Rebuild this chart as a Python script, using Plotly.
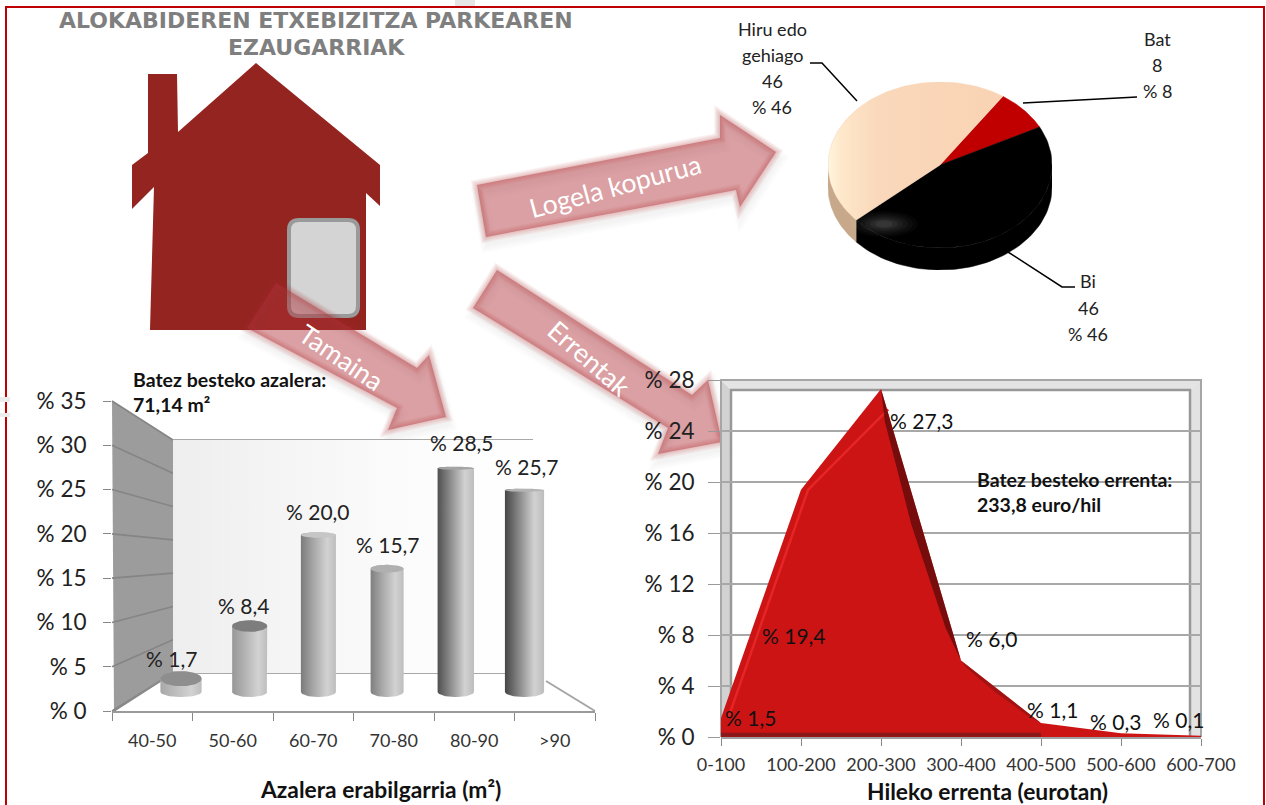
import numpy as np
import plotly.graph_objects as go

W, H = 1266, 805

# ---- data ----
TITLE_LINES = ["ALOKABIDEREN ETXEBIZITZA PARKEAREN", "EZAUGARRIAK"]
AREA_CATS = ["40-50", "50-60", "60-70", "70-80", "80-90", ">90"]
AREA_VALUES = [1.7, 8.4, 20.0, 15.7, 28.5, 25.7]
RENT_CATS = ["0-100", "100-200", "200-300", "300-400", "400-500", "500-600", "600-700"]
RENT_VALUES = [1.5, 19.4, 27.3, 6.0, 1.1, 0.3, 0.1]
ROOM_NAMES = ["Bat", "Bi", "Hiru edo gehiago"]
ROOM_VALUES = [8, 46, 46]

FONT = "Lato"


def X(p): return p / W
def Y(p): return 1 - p / H
def dom_x(a, b): return [a / W, b / W]
def dom_y(top, bottom): return [1 - bottom / H, 1 - top / H]
def poly(points):
    return "M " + " L ".join(f"{X(a):.5f},{Y(b):.5f}" for a, b in points) + " Z"
def open_path(points):
    return "M " + " L ".join(f"{X(a):.5f},{Y(b):.5f}" for a, b in points)


shapes, notes = [], []


def shape_poly(points, fill, line=None, lw=0, layer="below", closed=True):
    shapes.append(dict(type="path", xref="paper", yref="paper", layer=layer,
                       path=poly(points) if closed else open_path(points),
                       fillcolor=fill if closed else "rgba(0,0,0,0)",
                       line=dict(color=line or "rgba(0,0,0,0)", width=lw)))


def text(x, y, s, size=16, color="#111", bold=False, anchor="center", angle=0, font=FONT):
    notes.append(dict(xref="paper", yref="paper", x=X(x), y=Y(y), text=f"<b>{s}</b>" if bold else s,
                      showarrow=False, xanchor=anchor, yanchor="middle", textangle=angle,
                      font=dict(family=font, size=size, color=color)))


# ---- house ----
shape_poly([(256, 63), (380, 165), (380, 206), (366, 193), (366, 330), (150, 330), (154, 187), (132, 209),
            (132, 165), (148, 153), (148, 74), (177, 74), (178, 132)], "#93241f")
dx0, dx1, dy0, dy1, r = 289, 358, 220, 316, 10
door = (f"M {X(dx0 + r)},{Y(dy0)} L {X(dx1 - r)},{Y(dy0)} Q {X(dx1)},{Y(dy0)} {X(dx1)},{Y(dy0 + r)} "
        f"L {X(dx1)},{Y(dy1 - r)} Q {X(dx1)},{Y(dy1)} {X(dx1 - r)},{Y(dy1)} L {X(dx0 + r)},{Y(dy1)} "
        f"Q {X(dx0)},{Y(dy1)} {X(dx0)},{Y(dy1 - r)} L {X(dx0)},{Y(dy0 + r)} Q {X(dx0)},{Y(dy0)} {X(dx0 + r)},{Y(dy0)} Z")
shapes.append(dict(type="path", xref="paper", yref="paper", layer="below", path=door,
                   fillcolor="#d4d4d4", line=dict(color="#9a9a9a", width=4)))

# ---- soft arrows ----
ARROWS = [
    [(477, 185), (720, 138), (720, 115), (776, 152), (740, 207), (736, 190), (486, 237)],
    [(276, 283), (417, 368), (429, 355), (446, 417), (388, 430), (397, 408), (247, 328)],
    [(497, 270), (692, 395), (708, 380), (722, 442), (658, 454), (668, 428), (473, 308)],
]
for pts in ARROWS:
    shadow = [(a + 2, b + 7) for a, b in pts]
    for w in (16, 12, 8, 4):
        shape_poly(shadow, "rgba(0,0,0,0)", "rgba(120,120,120,.02)", w)
    for w in (11, 9, 7, 5, 3, 1.5):
        shape_poly(pts, "rgba(0,0,0,0)", "rgba(177,47,55,.055)", w)
    shape_poly(pts, "rgba(177,47,55,.46)")

# ---- left chart walls ----
BACK_TOP, BACK_BOTTOM = 440, 673
FRONT_TOP, FRONT_BOTTOM = 401, 711
TICKS_L = [0, 5, 10, 15, 20, 25, 30, 35]
shape_poly([(112, FRONT_TOP), (173, BACK_TOP), (173, BACK_BOTTOM), (114, FRONT_BOTTOM)], "#9c9c9c")
for v in TICKS_L:
    yb = BACK_BOTTOM + (BACK_TOP - BACK_BOTTOM) * v / 35
    yf = FRONT_BOTTOM + (FRONT_TOP - FRONT_BOTTOM) * v / 35
    shape_poly([(112, yf), (173, yb)], "", "#858585", 1.6, closed=False)
    shape_poly([(173, yb), (533, yb)], "", "#a9a9a9", 2, closed=False)
shape_poly([(546, 681), (595, 711)], "", "#a5a5a5", 2, closed=False)
shape_poly([(173, BACK_BOTTOM), (114, FRONT_BOTTOM)], "", "#8a8a8a", 1.5, closed=False)

# ---- right chart frame ----
shape_poly([(721, 380), (731, 390), (731, 737), (721, 737)], "#d2d2d2")
shape_poly([(721, 380), (1201, 380), (1190, 390), (731, 390)], "#e4e4e4")
shape_poly([(1201, 380), (1201, 737), (1190, 737), (1190, 390)], "#e2e2e2")
shape_poly([(731, 737), (731, 390), (1190, 390), (1190, 737)], "", "#989898", 2.5, closed=False)
shape_poly([(721, 737), (721, 380), (1201, 380), (1201, 737)], "", "#a6a6a6", 2, closed=False)

# ---- page frame and ghost marks ----
shape_poly([(6, 808), (6, 7), (1264, 7), (1264, 808)], "", "#c00000", 2, closed=False)
shape_poly([(455, 0), (475, 0), (475, 6), (455, 6)], "#e6e6e6")
shape_poly([(0, 397), (10, 397), (10, 402), (0, 402)], "#ececec")
shape_poly([(0, 413), (10, 413), (10, 417), (0, 417)], "#ececec")

# ---- leader lines ----
LEADERS = [[(810, 63), (822, 63), (857, 101)], [(1023, 103), (1137, 97)], [(1008, 252), (1062, 287), (1075, 287)]]
for pts in LEADERS:
    shape_poly(pts, "", "#000", 1.5, layer="above", closed=False)

fig = go.Figure()

# ---- back wall (canvas subplot, lowest) ----
fig.add_trace(go.Scatter(x=[173, 533, 533, 173], y=[BACK_TOP, BACK_TOP, BACK_BOTTOM, BACK_BOTTOM],
                         xaxis="x", yaxis="y", mode="lines", line=dict(width=0), fill="toself", hoverinfo="skip",
                         fillgradient=dict(type="horizontal", colorscale=[[0, "#eeeeee"], [.6, "#fbfbfb"], [1, "#ffffff"]])))

# ---- left chart: axes anchor trace ----
fig.add_trace(go.Scatter(x=AREA_CATS, y=[0] * len(AREA_CATS), xaxis="x2", yaxis="y2", mode="none", hoverinfo="skip"))

# ---- cylinders ----
PX_PER_UNIT = 7.85
BASE_PX = 692
HALF_W = [.30, .255, .255, .24, .265, .285]
DARK = ["#a8a8a8", "#979797", "#7b7b7b", "#7f7f7f", "#505050", "#454545"]
MID = ["#bcbcbc", "#b2b2b2", "#a6a6a6", "#a8a8a8", "#8c8c8c", "#868686"]
TOPC = ["#8e8e8e", "#7d7d7d", "#c6c6c6", "#b0b0b0", "#a4a4a4", "#b4b4b4"]
LBL_SHIFT = [(-10, 20), (-6, 21), (0, 24), (1, 24), (6, 26), (2, 24)]
t = np.linspace(0, np.pi, 30)
for i, v in enumerate(AREA_VALUES):
    hw = HALF_W[i]
    ry_b = 5 / PX_PER_UNIT
    ry_t = max(1.6, 8 - v * .26) / PX_PER_UNIT
    xs = np.concatenate([i - hw * np.cos(t), i + hw * np.cos(t)])
    ys = np.concatenate([v + ry_t * np.sin(t), 0 - ry_b * np.sin(t)])
    fig.add_trace(go.Scatter(x=xs, y=ys, xaxis="x3", yaxis="y3", mode="lines", line=dict(width=0),
                             fill="toself", hovertemplate=f"{AREA_CATS[i]}: % {v}<extra></extra>",
                             fillgradient=dict(type="horizontal",
                                               colorscale=[[0, DARK[i]], [.35, MID[i]], [.75, "#d2d2d2"], [1, "#bdbdbd"]])))
    tt = np.linspace(0, 2 * np.pi, 50)
    fig.add_trace(go.Scatter(x=i + hw * np.cos(tt), y=v + ry_t * np.sin(tt), xaxis="x3", yaxis="y3", mode="lines",
                             line=dict(width=0), fill="toself", fillcolor=TOPC[i], hoverinfo="skip"))
    notes.append(dict(xref="x3", yref="y3", x=i, y=v, text="% " + f"{v:.1f}".replace(".", ","), showarrow=False,
                      xanchor="center", yanchor="middle", xshift=LBL_SHIFT[i][0], yshift=LBL_SHIFT[i][1],
                      font=dict(family=FONT, size=21, color="#222")))

# ---- pie (elliptical 3D) ----
START = 34.0
COLORS = ["#c00000", "#000000", "#f9d3b3"]
SIDES = ["#8a0000", "#000000", "#c7a88a"]
DEPTH = 22 / 83
angles = START + np.cumsum([0] + ROOM_VALUES) * 3.6
for i in range(3):
    a0, a1 = max(angles[i], 90), min(angles[i + 1], 270)
    if a1 > a0:
        th = np.radians(np.linspace(a0, a1, 60))
        xs = np.concatenate([np.sin(th), np.sin(th[::-1])])
        ys = np.concatenate([np.cos(th), np.cos(th[::-1]) - DEPTH])
        fig.add_trace(go.Scatter(x=xs, y=ys, xaxis="x4", yaxis="y4", mode="lines", line=dict(width=.5, color=SIDES[i]),
                                 fill="toself", fillcolor=SIDES[i], hoverinfo="skip"))
for i in range(3):
    th = np.radians(np.linspace(angles[i], angles[i + 1], 90))
    xs = np.concatenate([[0], np.sin(th), [0]])
    ys = np.concatenate([[0], np.cos(th), [0]])
    kw = dict(fillcolor=COLORS[i])
    if i == 2:
        kw = dict(fillgradient=dict(type="horizontal",
                                    colorscale=[[0, "#fff6e0"], [.07, "#fee8cb"], [.28, "#fad8bb"], [1, "#f9d3b3"]]))
    fig.add_trace(go.Scatter(x=xs, y=ys, xaxis="x4", yaxis="y4", mode="lines", line=dict(width=.5, color=COLORS[i]),
                             fill="toself", hovertemplate=f"{ROOM_NAMES[i]}: {ROOM_VALUES[i]}<extra></extra>", **kw))
for rx, ry, a in [(34, 13, .025), (29, 11, .03), (24, 9, .035), (19, 7, .04), (14, 5, .05), (9, 3.5, .06)]:
    shapes.append(dict(type="circle", xref="paper", yref="paper", layer="above", x0=X(884 - rx), x1=X(884 + rx),
                       y0=Y(224 + ry), y1=Y(224 - ry), fillcolor=f"rgba(255,255,255,{a})", line=dict(width=0)))

# ---- right chart: area ----
rx_idx = np.arange(len(RENT_VALUES))
fig.add_trace(go.Scatter(x=rx_idx, y=RENT_VALUES, xaxis="x5", yaxis="y5", mode="lines", fill="tozeroy",
                         fillcolor="#cc1414", line=dict(width=0, color="#cc1414"),
                         customdata=RENT_CATS, hovertemplate="%{customdata}: % %{y}<extra></extra>"))
# lit left edge (stops short of the peak)
lit_y = list(RENT_VALUES[:2]) + [RENT_VALUES[2] - 1.6]
fig.add_trace(go.Scatter(x=rx_idx[:3] + .09, y=lit_y, xaxis="x5", yaxis="y5", mode="lines",
                         line=dict(width=2.5, color="#e62626"), hoverinfo="skip"))
# shaded right edges as tapered slivers inside the area
for a, b, inset, col in [(2, 3, .12, "rgba(85,10,10,.72)"), (3, 4, .08, "rgba(120,15,15,.5)")]:
    ts = [.12, .5, .88]
    ins = [inset * .6, inset, inset * .6]
    inner_x = [a + (b - a) * q - d for q, d in zip(ts, ins)][::-1]
    inner_y = [RENT_VALUES[a] + (RENT_VALUES[b] - RENT_VALUES[a]) * q for q in ts][::-1]
    fig.add_trace(go.Scatter(x=[a, b] + inner_x + [a], y=[RENT_VALUES[a], RENT_VALUES[b]] + inner_y + [RENT_VALUES[a]],
                             xaxis="x5", yaxis="y5", mode="lines", line=dict(width=0), fill="toself",
                             fillcolor=col, hoverinfo="skip"))
fig.add_trace(go.Scatter(x=[0, 4], y=[.17, .17], xaxis="x5", yaxis="y5", mode="lines",
                         line=dict(width=4, color="rgba(110,25,25,.7)"), hoverinfo="skip"))
R_SHIFT = [(29, 0), (-7, -146), (41, -32), (30, 22), (11, 13), (-6, 12), (-23, 16)]
for i, v in enumerate(RENT_VALUES):
    notes.append(dict(xref="x5", yref="y5", x=i, y=v, text="% " + f"{v:.1f}".replace(".", ","), showarrow=False,
                      xanchor="center", yanchor="middle", xshift=R_SHIFT[i][0], yshift=R_SHIFT[i][1],
                      font=dict(family=FONT, size=21, color="#111")))

# ---- text ----
text(316, 21, TITLE_LINES[0], 22, "#7f7f7f", True, font="DejaVu Sans")
text(316, 47, TITLE_LINES[1], 22, "#7f7f7f", True, font="DejaVu Sans")
for x, y, s in [(772, 29, "Hiru edo"), (772, 55, "gehiago"), (772, 81, "46"), (772, 107, "% 46"),
                (1157, 39, "Bat"), (1157, 65, "8"), (1157, 91, "% 8"),
                (1088, 281, "Bi"), (1088, 308, "46"), (1088, 334, "% 46")]:
    text(x, y, s, 18, "#222")
text(615, 186, "Logela kopurua", 26.5, "#ffffff", angle=-15)
text(341, 357, "Tamaina", 26.5, "#ffffff", angle=34)
text(589, 358, "Errentak", 26.5, "#ffffff", angle=41)
text(131, 379, "Batez besteko azalera:", 19.5, "#111", True, "left")
text(131, 405, "71,14 m²", 19.5, "#111", True, "left")
text(975, 479, "Batez besteko errenta:", 19.5, "#111", True, "left")
text(975, 505, "233,8 euro/hil", 19.5, "#111", True, "left")
text(380, 789, "Azalera erabilgarria (m²)", 22.8, "#111", True)
text(987, 791, "Hileko errenta (eurotan)", 22.8, "#111", True)

hidden = dict(visible=False, showgrid=False, zeroline=False, fixedrange=True)
tick_l = dict(family=FONT, size=22.5, color="#222")
tick_x = dict(family=FONT, size=18, color="#333")

LEFT_DOM = dom_x(112, 595)
LEFT_YDOM = dom_y(401, 711)
bar_low = (BASE_PX - 711) / PX_PER_UNIT
bar_high = (BASE_PX - 401) / PX_PER_UNIT
SPACING = 68.7
CENTER0 = 181

fig.update_layout(
    template="none", width=W, height=H, autosize=False, showlegend=False,
    margin=dict(l=0, r=0, t=0, b=0, pad=0), paper_bgcolor="#ffffff", plot_bgcolor="rgba(0,0,0,0)",
    shapes=shapes, annotations=notes, hovermode="closest",
    xaxis=dict(domain=[0, 1], range=[0, W], **hidden),
    yaxis=dict(domain=[0, 1], range=[H, 0], **hidden),
    xaxis2=dict(domain=LEFT_DOM, type="category", categoryorder="array", categoryarray=AREA_CATS,
                range=[-.5, 5.5], tickson="boundaries", ticks="outside", ticklen=8, tickcolor="#888",
                showline=True, linecolor="#9a9a9a", linewidth=2, showgrid=False, tickfont=tick_x,
                anchor="y2", fixedrange=True, ticklabelstandoff=12),
    yaxis2=dict(domain=LEFT_YDOM, range=[0, 35], dtick=5, tickprefix="% ", ticks="outside", ticklen=8,
                tickcolor="#888", showline=False, showgrid=False, zeroline=False, tickfont=tick_l,
                anchor="x2", fixedrange=True, ticklabelstandoff=12),
    xaxis3=dict(domain=LEFT_DOM, range=[(112 - CENTER0) / SPACING, (595 - CENTER0) / SPACING], anchor="y3", **hidden),
    yaxis3=dict(domain=LEFT_YDOM, range=[bar_low, bar_high], anchor="x3", **hidden),
    xaxis4=dict(domain=dom_x(828, 1052), range=[-1, 1], anchor="y4", **hidden),
    yaxis4=dict(domain=dom_y(82, 270), range=[-1 - DEPTH, 1], anchor="x4", **hidden),
    xaxis5=dict(domain=dom_x(721, 1201), range=[0, 6], tickvals=list(range(7)), ticktext=RENT_CATS,
                ticks="outside", ticklen=7, tickcolor="#888", showline=True, linecolor="#a0a0a0", linewidth=2,
                showgrid=False, zeroline=False, tickfont=tick_x, anchor="y5", fixedrange=True, ticklabelstandoff=3),
    yaxis5=dict(domain=dom_y(380, 737), range=[0, 28], dtick=4, tickprefix="% ", ticks="outside", ticklen=12,
                tickcolor="#999", showline=False, showgrid=True, gridcolor="#a8a8a8", gridwidth=2,
                zeroline=False, tickfont=tick_l, anchor="x5", fixedrange=True, ticklabelstandoff=9),
)

fig.write_html("out.html", post_script="document.body.style.margin='0';", config=dict(displayModeBar=False))
